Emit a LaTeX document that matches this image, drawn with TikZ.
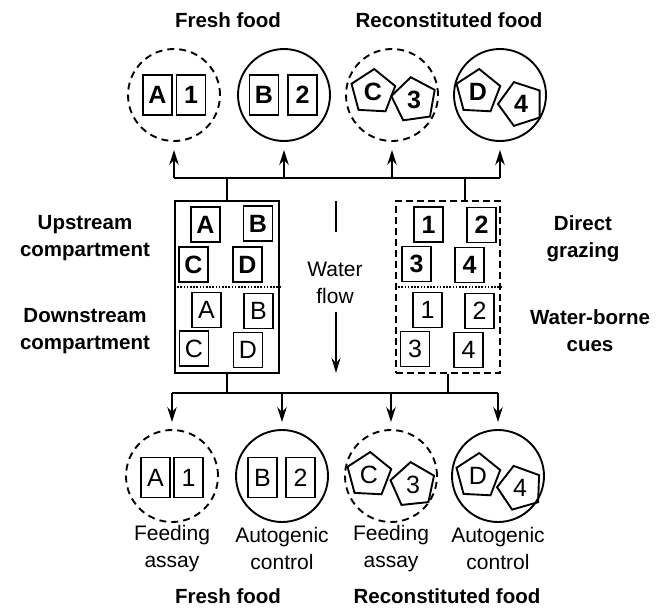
\documentclass[tikz,border=0pt]{standalone}
\usepackage{fontspec}
\setmainfont{Liberation Sans}
\usetikzlibrary{shapes.geometric,arrows.meta}
\begin{document}
\begin{tikzpicture}[x=1pt,y=-1pt,
  lw/.style={line width=1.9pt},
  bl/.style={font=\fontsize{20.5}{27}\selectfont\bfseries, align=center, inner sep=0pt},
  nl/.style={font=\fontsize{21}{27}\selectfont, align=center, inner sep=0pt},
  sq/.style={draw, lw, minimum width=29pt, minimum height=40pt, inner sep=0pt},
  msq/.style={draw, lw, minimum width=29pt, minimum height=35pt, inner sep=0pt},
  pent/.style={draw, lw, regular polygon, regular polygon sides=5, minimum size=46pt, inner sep=0pt},
  bf/.style={font=\fontsize{25}{25}\selectfont\bfseries},
  nf/.style={font=\fontsize{25}{25}\selectfont},
  circ/.style={draw, lw, circle, minimum size=92pt, inner sep=0pt},
  dcirc/.style={circ, dash pattern=on 7pt off 5pt},
  arr/.style={lw, -{Stealth[length=15pt,width=9.5pt,inset=5pt]}},
  warr/.style={line width=1.4pt, -{Stealth[length=15pt,width=9pt,inset=5pt]}},
]
\useasboundingbox (0,0) rectangle (656,608);

% top titles
\node[bl] (tf) at (228,20) {Fresh food};
\node[bl] (tr) at (449,20) {Reconstituted food};

% top circles
\node[dcirc] (c1) at (174,95) {};
\node[circ]  (c2) at (284,95) {};
\node[dcirc] (c3) at (392,95) {};
\node[circ]  (c4) at (500,95) {};
\node[sq,bf] (tA) at (157.5,95) {A};
\node[sq,bf] (t1) at (191,95) {1};
\node[sq,bf] (tB) at (264,95) {B};
\node[sq,bf] (t2) at (302.5,95) {2};
\node[pent,bf,rotate=-3] (tC) at (373,92) {\rotatebox{3}{C}};
\node[pent,bf,rotate=8] (t3) at (414,100) {\rotatebox{-8}{3}};
\node[pent,bf,rotate=-3] (tD) at (478,92) {\rotatebox{3}{D}};
\node[pent,bf,rotate=18] (t4) at (521,104) {\rotatebox{-18}{4}};

% middle boxes
\node[draw, lw, minimum width=104pt, minimum height=172pt, inner sep=0pt] (lbox) at (227,287) {};
\node[draw, lw, dash pattern=on 7pt off 4pt, minimum width=104pt, minimum height=172pt, inner sep=0pt] (rbox) at (448,287) {};
\draw[lw, dash pattern=on 1.6pt off 1.6pt] (lbox.west |- 0,287) -- (lbox.east |- 0,287);
\draw[lw, dash pattern=on 1.6pt off 1.6pt] (rbox.west |- 0,287) -- (rbox.east |- 0,287);

\node[msq,bf] (uA) at (205.5,224.5) {A};
\node[msq,bf] (uB) at (258,223.5) {B};
\node[msq,bf] (uC) at (193.5,264.5) {C};
\node[msq,bf] (uD) at (247.5,264.5) {D};
\node[msq,nf] (dA) at (206.5,310) {A};
\node[msq,nf] (dB) at (258.5,311) {B};
\node[msq,nf] (dC) at (194,348.5) {C};
\node[msq,nf] (dD) at (248,350) {D};

\node[msq,bf] (u1) at (428.5,224.5) {1};
\node[msq,bf] (u2) at (481.5,225) {2};
\node[msq,bf] (u3) at (416.5,264) {3};
\node[msq,bf] (u4) at (469.5,265) {4};
\node[msq,nf] (d1) at (427.5,310) {1};
\node[msq,nf] (d2) at (479.5,311) {2};
\node[msq,nf] (d3) at (415,349) {3};
\node[msq,nf] (d4) at (468.5,350) {4};

% side labels
\node[bl] (lu) at (85,238.5) {Upstream\\compartment};
\node[bl] (ld) at (85,331) {Downstream\\compartment};
\node[bl] (ru) at (583,238.5) {Direct\\grazing};
\node[bl] (rd) at (590,331) {Water-borne\\cues};

% water flow
\node[nl] (wf) at (335,283) {Water\\flow};
\coordinate (wa) at (336,201);
\coordinate (wb) at (336,232);
\coordinate (wc) at (336,312);
\coordinate (wd) at (336,373);
\draw[line width=1.4pt] (wa) -- (wb);
\draw[warr] (wc) -- (wd);

% top connectors
\coordinate (ht) at (0,178);
\coordinate (rtop) at (465,201);
\draw[lw] (lbox.north) -- (lbox.north |- ht);
\draw[lw] (rtop) -- (rtop |- ht);
\draw[lw] (c1.south |- ht) -- (c4.south |- ht);
\foreach \c in {c1,c2,c3,c4}{
  \draw[arr, shorten >=8pt] (\c.south |- ht) -- (\c.south);
}

% bottom circles
\node[dcirc] (b1) at (172,476) {};
\node[circ]  (b2) at (282,476) {};
\node[dcirc] (b3) at (391,476) {};
\node[circ]  (b4) at (498,476) {};
\node[sq,nf] (bA) at (155.5,477.5) {A};
\node[sq,nf] (b1s) at (188.5,477.5) {1};
\node[sq,nf] (bB) at (262.5,477.5) {B};
\node[sq,nf] (b2s) at (300.5,477.5) {2};
\node[pent,nf,rotate=-3] (bC) at (369,475) {\rotatebox{3}{C}};
\node[pent,nf,rotate=6] (b3s) at (413,485) {\rotatebox{-6}{3}};
\node[pent,nf,rotate=-3] (bD) at (478,476) {\rotatebox{3}{D}};
\node[pent,nf,rotate=16] (b4s) at (520,488) {\rotatebox{-16}{4}};

% bottom connectors
\coordinate (hb) at (0,393);
\draw[lw] (lbox.south) -- (lbox.south |- hb);
\draw[lw] (rbox.south) -- (rbox.south |- hb);
\draw[lw] (b1.north |- hb) -- (b4.north |- hb);
\foreach \c in {b1,b2,b3,b4}{
  \draw[arr, shorten >=7pt] (\c.north |- hb) -- (\c.north);
}

% bottom labels
\node[nl] (f1) at (172,548.5) {Feeding\\assay};
\node[nl] (a1) at (282,548.5) {Autogenic\\control};
\node[nl] (f2) at (391,548.5) {Feeding\\assay};
\node[nl] (a2) at (498,548.5) {Autogenic\\control};
\node[bl] (bf) at (228,596) {Fresh food};
\node[bl] (br) at (447,596) {Reconstituted food};
\end{tikzpicture}
\end{document}
